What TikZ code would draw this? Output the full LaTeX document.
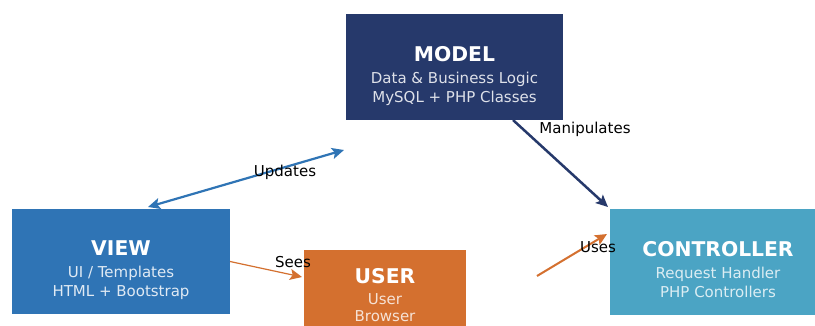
\documentclass[tikz,border=0pt]{standalone}
\usepackage{fontspec}
\setmainfont{DejaVu Sans}
\usetikzlibrary{arrows.meta,calc}
\definecolor{cmodel}{HTML}{26396B}
\definecolor{cview}{HTML}{2F74B5}
\definecolor{cuser}{HTML}{D4702F}
\definecolor{cctrl}{HTML}{4BA4C4}
\begin{document}
\begin{tikzpicture}[x=1pt,y=1pt,
  box/.style={inner sep=0pt, outer sep=0pt},
  ttl/.style={anchor=base, inner sep=0pt, text=white, font=\fontsize{20.3}{24}\selectfont\bfseries},
  sub/.style={anchor=base, inner sep=0pt, font=\fontsize{15}{18}\selectfont},
  lbl/.style={inner sep=0pt, text=black, font=\fontsize{15}{18}\selectfont},
  tip/.style={-{Stealth[length=12pt,width=11pt,inset=2.5pt]}},
  tips/.style={{Stealth[length=12pt,width=11pt,inset=2.5pt]}-{Stealth[length=12pt,width=11pt,inset=2.5pt]}}]
\clip (0,0) rectangle (815,325);
\fill[white] (0,0) rectangle (815,325);

% boxes
\node[box, fill=cmodel, minimum width=217pt, minimum height=106pt] (model) at (454.5,258) {};
\node[box, fill=cview, minimum width=218pt, minimum height=105pt] (view) at (121,63.5) {};
\node[box, fill=cuser, minimum width=162pt, minimum height=80pt] (user) at (385,35) {};
\node[box, fill=cctrl, minimum width=216pt, minimum height=106pt] (ctrl) at (718,63) {};

% texts
\node[ttl] (modelT) at ($(model.center)+(0,6)$) {MODEL};
\node[sub, text=white!85!cmodel] (modelA) at ($(model.center)+(0,-16)$) {Data \& Business Logic};
\node[sub, text=white!85!cmodel] (modelB) at ($(model.center)+(0,-35)$) {MySQL + PHP Classes};

\node[ttl] (viewT) at ($(view.center)+(0,6)$) {VIEW};
\node[sub, text=white!85!cview] (viewA) at ($(view.center)+(0,-16)$) {UI / Templates};
\node[sub, text=white!85!cview] (viewB) at ($(view.center)+(0,-35)$) {HTML + Bootstrap};

\node[ttl] (userT) at ($(user.center)+(0,7)$) {USER};
\node[sub, text=white!80!cuser] (userA) at ($(user.center)+(0,-14)$) {User};
\node[sub, text=white!80!cuser] (userB) at ($(user.center)+(0,-31)$) {Browser};

\node[ttl] (ctrlT) at ($(ctrl.center)+(0,6)$) {CONTROLLER};
\node[sub, text=white!80!cctrl] (ctrlA) at ($(ctrl.center)+(0,-16)$) {Request Handler};
\node[sub, text=white!80!cctrl] (ctrlB) at ($(ctrl.center)+(0,-35)$) {PHP Controllers};

% free connector ends
\coordinate (updA) at ($(view.north west)+(136,2)$);
\coordinate (updB) at (344,175);
\coordinate (manA) at ($(model.south west)+(167,0)$);
\coordinate (seesA) at (view.east);
\coordinate (seesB) at ($(user.north west)+(-2,-27)$);
\coordinate (usesA) at (537,49);
\coordinate (usesB) at ($(ctrl.west)+(-3,28)$);

% connectors
\draw[tips, cview, line width=2.2pt] (updA) -- (updB);
\draw[tip, cmodel, line width=2.5pt] (manA) -- ($(ctrl.north west)+(-2,2)$);
\draw[tip, cuser, line width=1.2pt] (seesA) -- (seesB);
\draw[tip, cuser, line width=2pt] (usesA) -- (usesB);

% labels
\node[lbl] (updL) at (285,153) {Updates};
\node[lbl] (manL) at (585,196) {Manipulates};
\node[lbl] (seesL) at (293,63) {Sees};
\node[lbl] (usesL) at (598,78) {Uses};
\end{tikzpicture}
\end{document}
